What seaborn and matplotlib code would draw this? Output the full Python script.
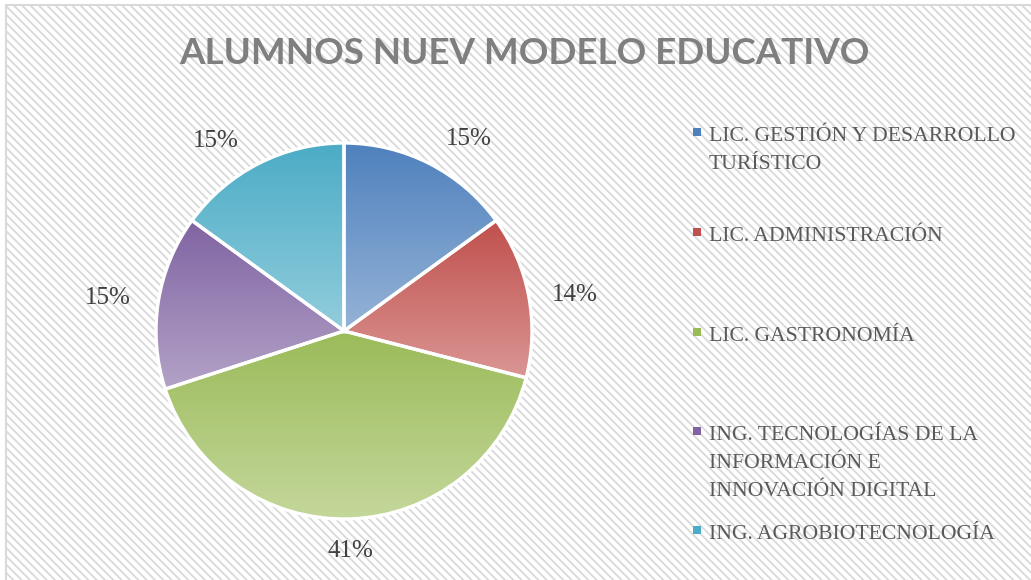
import numpy as np
import matplotlib
matplotlib.use("Agg")
import matplotlib.pyplot as plt
import matplotlib.colors as mcolors
from matplotlib.patches import Rectangle
import seaborn as sns

# data
categories = [
    "LIC. GESTIÓN Y DESARROLLO\nTURÍSTICO",
    "LIC. ADMINISTRACIÓN",
    "LIC. GASTRONOMÍA",
    "ING. TECNOLOGÍAS DE LA\nINFORMACIÓN E\nINNOVACIÓN DIGITAL",
    "ING. AGROBIOTECNOLOGÍA",
]
shares = [15, 14, 41, 15, 15]
top_colors = ["#4F81BD", "#C0504D", "#9BBB59", "#8064A2", "#4BACC6"]
bottom_colors = ["#95B3D7", "#DA9694", "#C4D79B", "#B3A2C7", "#92CDDC"]

sns.set_style("white")
plt.rcParams["hatch.color"] = "#e6e6e6"
plt.rcParams["hatch.linewidth"] = 1.3

W, H = 1031, 580
fig = plt.figure(figsize=(W / 100, H / 100), dpi=100)
fig.patch.set_facecolor("white")

# striped background with a thin border on the left/top
bg = Rectangle((6 / W, -0.05), 1.2, 1.05 - 4.5 / H, transform=fig.transFigure,
               facecolor="white", edgecolor="#d9d9d9", hatch="\\\\\\\\",
               linewidth=1.5, zorder=0)
fig.add_artist(bg)

cx, cy, r = 344, 331, 188
ax = fig.add_axes([(cx - r) / W, (H - cy - r) / H, 2 * r / W, 2 * r / H])
ax.set_facecolor("none")

serif = "Liberation Serif"
wedges, texts, autotexts = ax.pie(
    shares, startangle=90, counterclock=False, radius=1,
    autopct="%1.0f%%", pctdistance=1.22,
    wedgeprops=dict(linewidth=2.4, edgecolor="white", facecolor="none"),
    textprops=dict(fontsize=18, color="#404040", family=serif),
)

# vertical gradient inside each slice
for w, c_top, c_bot in zip(wedges, top_colors, bottom_colors):
    ext = w.get_path().get_extents()
    t = np.linspace(0, 1, 256)[:, None]
    a = np.array(mcolors.to_rgb(c_top))
    b = np.array(mcolors.to_rgb(c_bot))
    grad = (a * (1 - t) + b * t)[:, None, :]
    im = ax.imshow(grad, extent=(ext.x0, ext.x1, ext.y0, ext.y1),
                   origin="upper", aspect="auto", zorder=1, interpolation="bilinear")
    im.set_clip_path(w)
    w.set_zorder(3)

# nudge the percentage labels a little like the original best-fit placement
label_dist = [1.22, 1.24, 1.17, 1.27, 1.22]
label_turn = [6, 2, 0, -1, -7]
for w, txt, d, dt in zip(wedges, autotexts, label_dist, label_turn):
    ang = np.deg2rad((w.theta1 + w.theta2) / 2 - dt)
    txt.set_position((d * np.cos(ang), d * np.sin(ang)))
    txt.set_clip_on(False)

ax.set_xlim(-1, 1)
ax.set_ylim(-1, 1)
ax.set_aspect("auto")
ax.axis("off")

fig.text(524 / W, 1 - 53 / H, "ALUMNOS NUEV MODELO EDUCATIVO", ha="center", va="center",
         fontsize=26.5, fontweight="bold", color="#7f7f7f", family="Lato")

# legend (baseline of the first line of each entry, px from top)
leg_base = [141, 241, 341, 440, 539]
line_step = 28
for lab, col, y in zip(categories, top_colors, leg_base):
    fig.patches.append(Rectangle((693 / W, 1 - (y - 5) / H), 8 / W, 8 / H,
                                 transform=fig.transFigure, facecolor=col,
                                 edgecolor="none", zorder=5))
    for i, line in enumerate(lab.split("\n")):
        fig.text(709 / W, 1 - (y + i * line_step) / H, line, ha="left", va="baseline",
                 fontsize=15.6, color="#595959", family=serif)

fig.savefig("out.png", dpi=100)
